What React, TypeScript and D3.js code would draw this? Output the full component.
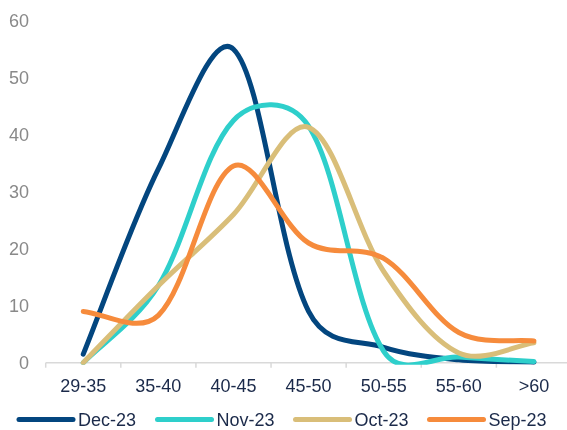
import * as d3 from "d3"

const categories = ["29-35", "35-40", "40-45", "45-50", "50-55", "55-60", ">60"]
const seriesNames = ["Dec-23", "Nov-23", "Oct-23", "Sep-23"]
const dec23 = [1.5, 34, 55, 9, 2.7, 0.5, 0.1]
const nov23 = [0, 13.5, 42.5, 41.5, 2, 1, 0.2]
const oct23 = [0, 13.5, 26, 41.3, 16, 1.7, 3.5]
const sep23 = [9, 8.3, 34.5, 21, 18.3, 5.3, 3.8]
const yTicks = [0, 10, 20, 30, 40, 50, 60]

const colors = ["#03467f", "#2ecfcb", "#d9be79", "#f68b3c"]
const legendX = [19, 157.5, 295.5, 429.5]

const W = 567
const H = 430
const y0 = 362.7

type Pt = [number, number]

// spreadsheet-style smoothing: catmull-rom handles, shortened next to short segments
function smoothPath(pts: Pt[]): string {
    const p = d3.path()
    const dist = (u: Pt, v: Pt) => Math.hypot(v[0] - u[0], v[1] - u[1])
    const handle = (dIn: number, dOut: number) => 0.5 / 6 + 0.5 * dOut / (dIn + dOut) / 3
    p.moveTo(pts[0][0], pts[0][1])
    for (let i = 0; i < pts.length - 1; i++) {
        const a = pts[i - 1] ?? pts[i]
        const b = pts[i]
        const c = pts[i + 1]
        const d = pts[i + 2] ?? pts[i + 1]
        const dab = dist(a, b), dbc = dist(b, c), dcd = dist(c, d)
        const k1 = handle(dab, dbc)
        const k2 = handle(dcd, dbc)
        p.bezierCurveTo(
            b[0] + (c[0] - a[0]) * k1, b[1] + (c[1] - a[1]) * k1,
            c[0] - (d[0] - b[0]) * k2, c[1] - (d[1] - b[1]) * k2,
            c[0], c[1])
    }
    return p.toString()
}

export default function App() {
    const x = d3.scaleBand<string>().domain(categories).range([45.7, 571.5])
    const y = d3.scaleLinear().domain([0, 60]).range([y0, 20.7])
    const cx = (c: string) => (x(c) ?? 0) + x.bandwidth() / 2

    const series = [dec23, nov23, oct23, sep23]
    const boundaries = [...categories.map((c) => x(c) ?? 0), x.range()[1]]

    return (
        <svg width={W} height={H} style={{ position: "fixed", left: 0, top: 0 }}
            fontFamily="'Liberation Sans', Arial, sans-serif">
            <defs>
                <clipPath id="plot">
                    <rect x={0} y={0} width={W} height={y0 + 2} />
                </clipPath>
            </defs>
            {yTicks.map((t) => (
                <text key={t} x={29} y={y(t)} dy="0.35em" textAnchor="end" fontSize={18} fill="#898989">{t}</text>
            ))}
            <line x1={45.7} x2={W} y1={y0} y2={y0} stroke="#d9d9d9" strokeWidth={1.5} />
            {boundaries.map((b, i) => (
                <line key={i} x1={b} x2={b} y1={y0} y2={y0 + 5} stroke="#d9d9d9" strokeWidth={1.5} />
            ))}
            {categories.map((c) => (
                <text key={c} x={cx(c)} y={392} textAnchor="middle" fontSize={18} fill="#1b2a4a">{c}</text>
            ))}
            <g clipPath="url(#plot)">
                {series.map((s, i) => (
                    <path key={seriesNames[i]}
                        d={smoothPath(s.map((v, j) => [cx(categories[j]), y(v)] as Pt))}
                        fill="none" stroke={colors[i]}
                        strokeWidth={5} strokeLinecap="round" strokeLinejoin="round" />
                ))}
            </g>
            {seriesNames.map((n, i) => (
                <g key={n} transform={`translate(${legendX[i]}, 419.5)`}>
                    <line x1={0} x2={54} y1={0} y2={0} stroke={colors[i]} strokeWidth={5} strokeLinecap="round" />
                    <text x={59} y={0} dy="0.35em" fontSize={18} fill="#1b2a4a">{n}</text>
                </g>
            ))}
        </svg>
    )
}
